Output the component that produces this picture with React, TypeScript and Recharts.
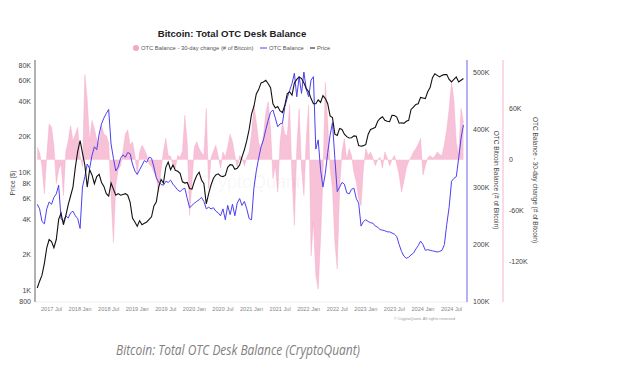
import React from 'react'
import { ComposedChart, Area, Line, XAxis, YAxis } from 'recharts'

// x positions are months counted from 2017 Jan, one point every half month
const START_MONTH = 3
const STEP = 0.5

// Price ($, thousands)
const priceK = [
  1.05, 1.2, 1.35, 1.7, 2.3, 2.7, 2.6, 2.3, 2.7, 4.0, 4.5, 3.6,
  4.3, 5.3, 6.3, 7.5, 11, 15, 18.5, 14.5, 11.5, 7.5, 10.5, 9.5,
  8.0, 9.2, 9.6, 8.2, 7.6, 6.6, 6.3, 8.1, 7.2, 6.4, 6.6, 6.4,
  6.5, 6.6, 6.4, 5.6, 4.1, 3.8, 3.5, 3.9, 3.6, 3.7, 3.8, 4.0,
  4.2, 5.2, 5.6, 7.5, 8.7, 8.1, 11, 12.2, 10.5, 11.5, 10.4, 10.2,
  9.8, 8.3, 8.1, 8.2, 7.3, 7.2, 8.4, 9.4, 10.0, 8.6, 8.0, 5.4,
  6.6, 7.8, 8.9, 9.5, 9.7, 9.3, 9.2, 9.4, 11.0, 11.6, 11.5, 10.6,
  10.8, 11.5, 13.5, 15.5, 18.5, 23, 31, 36, 46, 50, 57, 58,
  60, 56, 52, 38, 35, 36, 33, 32, 37, 46, 48, 45,
  57, 61, 64, 62, 57, 51, 48, 42, 38, 38, 41, 39,
  44.5, 42, 38, 30, 29, 21, 20.5, 23.5, 23, 21, 20, 19.5,
  19.6, 20.3, 20.2, 16.8, 16.6, 16.8, 17.2, 21, 23, 23.5, 24, 27,
  28.5, 29.5, 27.5, 27, 26.8, 30.3, 30.2, 29.3, 26, 26.2, 25.9, 27,
  27.5, 34, 35.5, 37.5, 38, 43, 42.5, 42, 48, 52, 63, 68,
  66, 64, 66, 67, 67, 61, 58, 61, 64, 58, 60, 62,
]

// OTC balance (thousands of BTC)
const balanceK = [
  270, 262, 240, 236, 262, 274, 270, 282, 288, 303, 245, 240,
  250, 246, 255, 258, 250, 245, 228, 300, 318, 340, 332, 355,
  370, 365, 392, 410, 420, 428, 435, 375, 350, 328, 335, 350,
  356, 352, 360, 358, 340, 328, 322, 330, 338, 346, 343, 352,
  350, 335, 316, 308, 305, 303, 310, 308, 312, 305, 300, 295,
  292, 296, 298, 280, 264, 268, 272, 275, 278, 282, 275, 262,
  265, 262, 264, 258, 255, 250, 262, 243, 268, 252, 270, 250,
  272, 280, 268, 275, 262, 245, 243, 298, 328, 350, 370, 382,
  400, 416, 430, 434, 420, 405, 410, 411, 440, 455, 468, 480,
  498, 457, 492, 463, 500, 470, 457, 486, 492, 366, 382, 330,
  300, 324, 360, 390, 412, 350, 292, 300, 308, 305, 290, 288,
  296, 298, 280, 272, 232, 240, 243, 240, 238, 237, 232, 230,
  226, 225, 224, 222, 222, 220, 218, 214, 200, 188, 180, 176,
  178, 182, 185, 192, 198, 206, 200, 190, 191, 190, 189, 188,
  187, 188, 190, 200, 235, 265, 310, 315, 318, 350, 385, 408,
]

// OTC balance, 30-day change (thousands of BTC)
const changeK = [
  15, 8, -8, -40, 5, 42, 38, 16, -28, -12, -5, -42,
  10, 22, 40, 22, 30, 38, 5, -8, 100, 70, 22, 46,
  36, 24, 18, 40, 30, 28, 20, -42, -97, -30, -12, -7,
  10, 30, 35, 17, 21, 6, -18, 9, 17, 12, 5, -5,
  -8, -15, -20, -38, -12, 10, 25, 5, 4, -7, -10, 5,
  3, 10, 52, 20, -65, -26, 15, 21, 13, 8, 5, 60,
  -34, 2, 10, 17, 4, -10, 9, 3, 15, 30, 21, 5,
  -10, 5, 2, -7, 3, 9, 30, 64, 44, 20, 13, 28,
  55, 68, 36, -22, -7, -38, 21, 44, 30, 28, 64, -20,
  -77, 13, 60, -10, -42, 25, 64, -113, -73, -136, -152, -93,
  -20, 91, 44, -10, -34, -97, -128, -34, 10, 25, 0, 13,
  5, -15, -26, -46, -54, -10, 13, 5, 9, 2, -7, 0,
  3, -10, 9, 2, -7, 0, 5, -5, -18, -38, -25, -10,
  -2, 3, 9, 13, 18, 25, -18, -7, 2, 5, 2, 4,
  9, 6, 5, 18, 35, 60, 91, 70, 20, 5, 60, 44,
]

const xTicks = [6, 12, 18, 24, 30, 36, 42, 48, 54, 60, 66, 72, 78, 84, 90]
const priceTicks = [0.8, 1, 2, 4, 6, 8, 10, 20, 40, 60, 80]
const balanceTicks = [100, 200, 300, 400, 500]
const changeTicks = [-120, -60, 0, 60]

const data = priceK.map((p, i) => ({
  t: START_MONTH + i * STEP,
  price: p,
  balance: balanceK[i],
  change: changeK[i],
}))

const PINK = '#f4a6c6'
const BLUE = '#4c40f2'
const FONT = '"Liberation Sans", Arial, sans-serif'

const monthLabel = (t: number) => `${2017 + Math.floor(t / 12)} ${t % 12 === 0 ? 'Jan' : 'Jul'}`
const priceLabel = (v: number) => (v < 1 ? String(Math.round(v * 1000)) : `${v}K`)
const kLabel = (v: number) => (v === 0 ? '0' : `${v}K`)

function Overlay() {
  return (
    <svg width={617} height={382} style={{ position: 'absolute', left: 0, top: 0, pointerEvents: 'none' }}>
      <text x={232} y={37} textAnchor="middle" fontSize={9.6} fontWeight="bold" fill="#222">
        Bitcoin: Total OTC Desk Balance
      </text>

      <circle cx={136} cy={48} r={3} fill={PINK} />
      <text x={141} y={50} fontSize={5.8} fill="#555">OTC Balance - 30-day change (# of Bitcoin)</text>
      <line x1={260} x2={267} y1={48} y2={48} stroke={BLUE} strokeWidth={1} />
      <text x={269} y={50} fontSize={5.8} fill="#555">OTC Balance</text>
      <line x1={310} x2={315} y1={48} y2={48} stroke="#111" strokeWidth={1} />
      <text x={317} y={50} fontSize={5.8} fill="#555">Price</text>

      <text x={250} y={188} textAnchor="middle" fontSize={18} fill="#000" fillOpacity={0.05}>CryptoQuant</text>

      <text transform="translate(12,183) rotate(-90)" textAnchor="middle" dominantBaseline="central" fontSize={6.6} fill="#444">
        Price ($)
      </text>
      <text transform="translate(496,180) rotate(90)" textAnchor="middle" dominantBaseline="central" fontSize={6.5} fill="#444">
        OTC Bitcoin Balance (# of Bitcoin)
      </text>
      <text transform="translate(535,180) rotate(90)" textAnchor="middle" dominantBaseline="central" fontSize={6.5} fill="#444">
        OTC Balance - 30-day change (# of Bitcoin)
      </text>

      <text x={394} y={320} fontSize={3.8} fill="#999" textLength={61} lengthAdjust="spacingAndGlyphs">
        © CryptoQuant. All rights reserved
      </text>

      <text x={116} y={355} fontSize={15} fontStyle="italic" fill="#808080" fontFamily='"Open Sans", sans-serif'
        textLength={244} lengthAdjust="spacingAndGlyphs">
        Bitcoin: Total OTC Desk Balance (CryptoQuant)
      </text>
    </svg>
  )
}

export default function App() {
  return (
    <div style={{ position: 'absolute', left: 0, top: 0, width: 617, height: 382, background: '#fff', fontFamily: FONT }}>
      <ComposedChart width={617} height={382} data={data} margin={{ top: 60, right: 74, bottom: 60, left: 0 }}>
        <XAxis
          dataKey="t"
          type="number"
          domain={[2.53, 93.25]}
          allowDataOverflow
          ticks={xTicks}
          tickFormatter={monthLabel}
          height={20}
          tickLine={false}
          tickSize={3}
          tickMargin={2}
          axisLine={{ stroke: '#eeeeee' }}
          tick={{ fontSize: 5.6, fill: '#888' }}
          interval={0}
        />
        <YAxis
          yAxisId="price"
          orientation="left"
          width={35}
          type="number"
          scale="log"
          domain={[0.8, 89]}
          allowDataOverflow
          ticks={priceTicks}
          tickFormatter={priceLabel}
          interval={0}
          tickLine={false}
          tickSize={2}
          tickMargin={2}
          axisLine={{ stroke: '#888', strokeWidth: 1.3 }}
          tick={{ fontSize: 7, fill: '#444' }}
        />
        <YAxis
          yAxisId="balance"
          orientation="right"
          width={36}
          type="number"
          domain={[100, 521]}
          allowDataOverflow
          ticks={balanceTicks}
          tickFormatter={kLabel}
          interval={0}
          tickLine={false}
          tickSize={3}
          tickMargin={3}
          axisLine={{ stroke: '#6c63e8', strokeWidth: 1 }}
          tick={{ fontSize: 7, fill: '#444' }}
        />
        <YAxis
          yAxisId="change"
          orientation="right"
          width={40}
          type="number"
          domain={[-167, 117]}
          allowDataOverflow
          ticks={changeTicks}
          tickFormatter={kLabel}
          interval={0}
          tickLine={false}
          tickSize={3}
          tickMargin={3}
          axisLine={{ stroke: '#f3b6cb', strokeWidth: 1 }}
          tick={{ fontSize: 7, fill: '#444' }}
        />
        <Area
          yAxisId="change"
          dataKey="change"
          type="linear"
          baseValue={0}
          fill={PINK}
          fillOpacity={0.7}
          stroke={PINK}
          strokeWidth={0.4}
          isAnimationActive={false}
        />
        <Line yAxisId="balance" dataKey="balance" type="linear" stroke={BLUE} strokeWidth={1} dot={false} isAnimationActive={false} />
        <Line yAxisId="price" dataKey="price" type="linear" stroke="#111" strokeWidth={1.1} dot={false} isAnimationActive={false} />
      </ComposedChart>
      <Overlay />
    </div>
  )
}
